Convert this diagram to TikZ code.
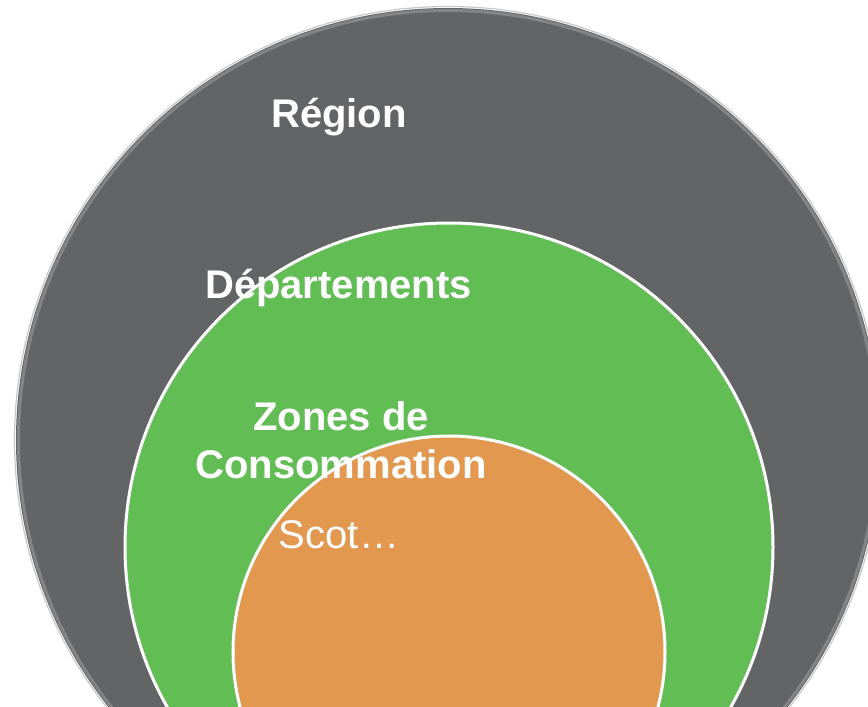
\documentclass[tikz,border=0pt]{standalone}
\usepackage{fontspec}
\setmainfont{Liberation Sans}
\definecolor{regiongray}{HTML}{636466}
\definecolor{rimgray}{HTML}{8C8D8F}
\definecolor{depgreen}{HTML}{62BD55}
\definecolor{scotorange}{HTML}{E3984F}
\begin{document}
\begin{tikzpicture}[x=1pt,y=-1pt,
  lbl/.style={text=white,font=\fontsize{40}{48}\selectfont\bfseries,align=center,anchor=base,inner sep=0pt},
  lblreg/.style={text=white,font=\fontsize{40}{48}\selectfont,anchor=base,inner sep=0pt}]
\useasboundingbox (0,0) rectangle (868,707);
\begin{scope}
\clip (0,0) rectangle (868,707);
% Region
\draw[draw=black!22,line width=1.2pt] (448,440) circle (433.5pt);
\fill[regiongray] (448,440) circle (432pt);
\draw[rimgray,line width=3pt,opacity=0.8] (448,440) circle (429.5pt);
\fill[regiongray] (448,440) circle (427pt);
% Departements
\filldraw[fill=depgreen,draw=white,line width=3pt] (449,547) circle (324pt);
% Scot
\filldraw[fill=scotorange,draw=white,line width=3pt] (449,652) circle (216pt);
\end{scope}
\node[lbl] (region) at (339,127) {Région};
\node[lbl] (dep) at (338.5,298) {Départements};
\node[lbl] (zones) at (341,430) {Zones de};
\node[lbl] (conso) at (341,478) {Consommation};
\node[lblreg] (scot) at (339,548) {Scot…};
\end{tikzpicture}
\end{document}
